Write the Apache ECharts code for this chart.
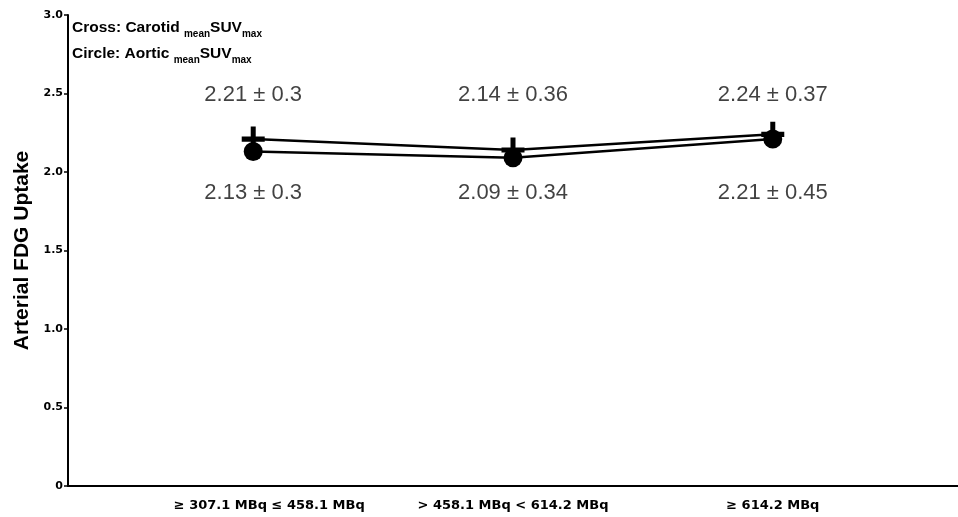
<!DOCTYPE html>
<html><head><meta charset="utf-8">
<script src="https://cdn.jsdelivr.net/npm/echarts@6/dist/echarts.min.js"></script>
<style>html,body{margin:0;padding:0;background:#fff}#c{width:958px;height:517px}</style>
</head><body><div id="c"></div>
<script>
var categories = ['\u2265 307.1 MBq \u2264 458.1 MBq', '> 458.1 MBq < 614.2 MBq', '\u2265 614.2 MBq'];
var carotidMean = [2.21, 2.14, 2.24];
var carotidSD = [0.3, 0.36, 0.37];
var aorticMean = [2.13, 2.09, 2.21];
var aorticSD = [0.3, 0.34, 0.45];
var yTicks = [0, 0.5, 1.0, 1.5, 2.0, 2.5, 3.0];
var upperLabelY = 2.49;
var lowerLabelY = 1.865;

var FONT = '"Liberation Sans", Arial, Helvetica, sans-serif';
var WIDE = '"DejaVu Sans", "Liberation Sans", Arial, sans-serif';
var plusPath = 'path://M9,0H14V9.5H23V14.5H14V24H9V14.5H0V9.5H9Z';

function pts(arr){ return arr.map(function(v,i){ return [i+1, v]; }); }
function labelPts(means, sds, y){ return means.map(function(m,i){ return {value:[i+1, y], txt: m + ' \u00b1 ' + sds[i]}; }); }

var richStyle = {
  b:{fontFamily:FONT, fontWeight:'bold', fontSize:15.5, fill:'#000', lineHeight:22, verticalAlign:'middle'},
  s:{fontFamily:FONT, fontWeight:'bold', fontSize:10, fill:'#000', lineHeight:22, verticalAlign:'bottom', padding:[8,0,0,0]}
};

var chart = echarts.init(document.getElementById('c'), null, {renderer:'canvas'});
chart.setOption({
  animation:false,
  backgroundColor:'#fff',
  grid:{left:68, right:0, top:15, bottom:31, containLabel:false},
  xAxis:{
    type:'value', min:0.287, max:3.713,
    axisLine:{show:true, lineStyle:{color:'#000', width:2}},
    axisTick:{show:false},
    splitLine:{show:false},
    axisLabel:{
      customValues:[1,2,3],
      formatter:function(v){ var i=Math.round(v)-1; var t=categories[i]||''; return i===0 ? '{o|' + t + '}' : '{n|' + t + '}'; },
      color:'#000', fontFamily:WIDE, fontWeight:'bold', fontSize:13, margin:13,
      rich:{
        o:{color:'#000', fontFamily:WIDE, fontWeight:'bold', fontSize:13, padding:[0,0,0,32]},
        n:{color:'#000', fontFamily:WIDE, fontWeight:'bold', fontSize:13}
      }
    }
  },
  yAxis:{
    type:'value', min:0, max:3, interval:0.5,
    name:'Arterial FDG Uptake', nameLocation:'middle', nameGap:35,
    nameTextStyle:{color:'#000', fontFamily:FONT, fontWeight:'bold', fontSize:21},
    axisLine:{show:true, lineStyle:{color:'#000', width:2}},
    axisTick:{show:true, length:4, lineStyle:{color:'#000', width:1.5}},
    splitLine:{show:false},
    axisLabel:{
      color:'#000', fontFamily:WIDE, fontWeight:'bold', fontSize:11, margin:5,
      formatter:function(v){ return v===0 ? '0' : v.toFixed(1); }
    }
  },
  series:[
    {
      name:'Carotid', type:'line', data:pts(carotidMean),
      symbol:plusPath, symbolSize:[23,25], z:3,
      lineStyle:{color:'#000', width:2.5}, itemStyle:{color:'#000'}
    },
    {
      name:'Aortic', type:'line', data:pts(aorticMean),
      symbol:'circle', symbolSize:19, z:4,
      lineStyle:{color:'#000', width:2.5}, itemStyle:{color:'#000'}
    },
    {
      type:'scatter', symbolSize:0, silent:true,
      data:labelPts(carotidMean, carotidSD, upperLabelY).concat(labelPts(aorticMean, aorticSD, lowerLabelY)),
      label:{show:true, position:'inside', color:'#111', fontFamily:FONT, fontSize:22,
        formatter:function(p){ return p.data.txt; }}
    }
  ],
  graphic:[
    {type:'text', left:72, top:20, style:{
      text:'{b|Cross: Carotid }{s|mean}{b|SUV}{s|max}', rich:richStyle}},
    {type:'text', left:72, top:46, style:{
      text:'{b|Circle: Aortic }{s|mean}{b|SUV}{s|max}', rich:richStyle}}
  ]
});
</script></body></html>
